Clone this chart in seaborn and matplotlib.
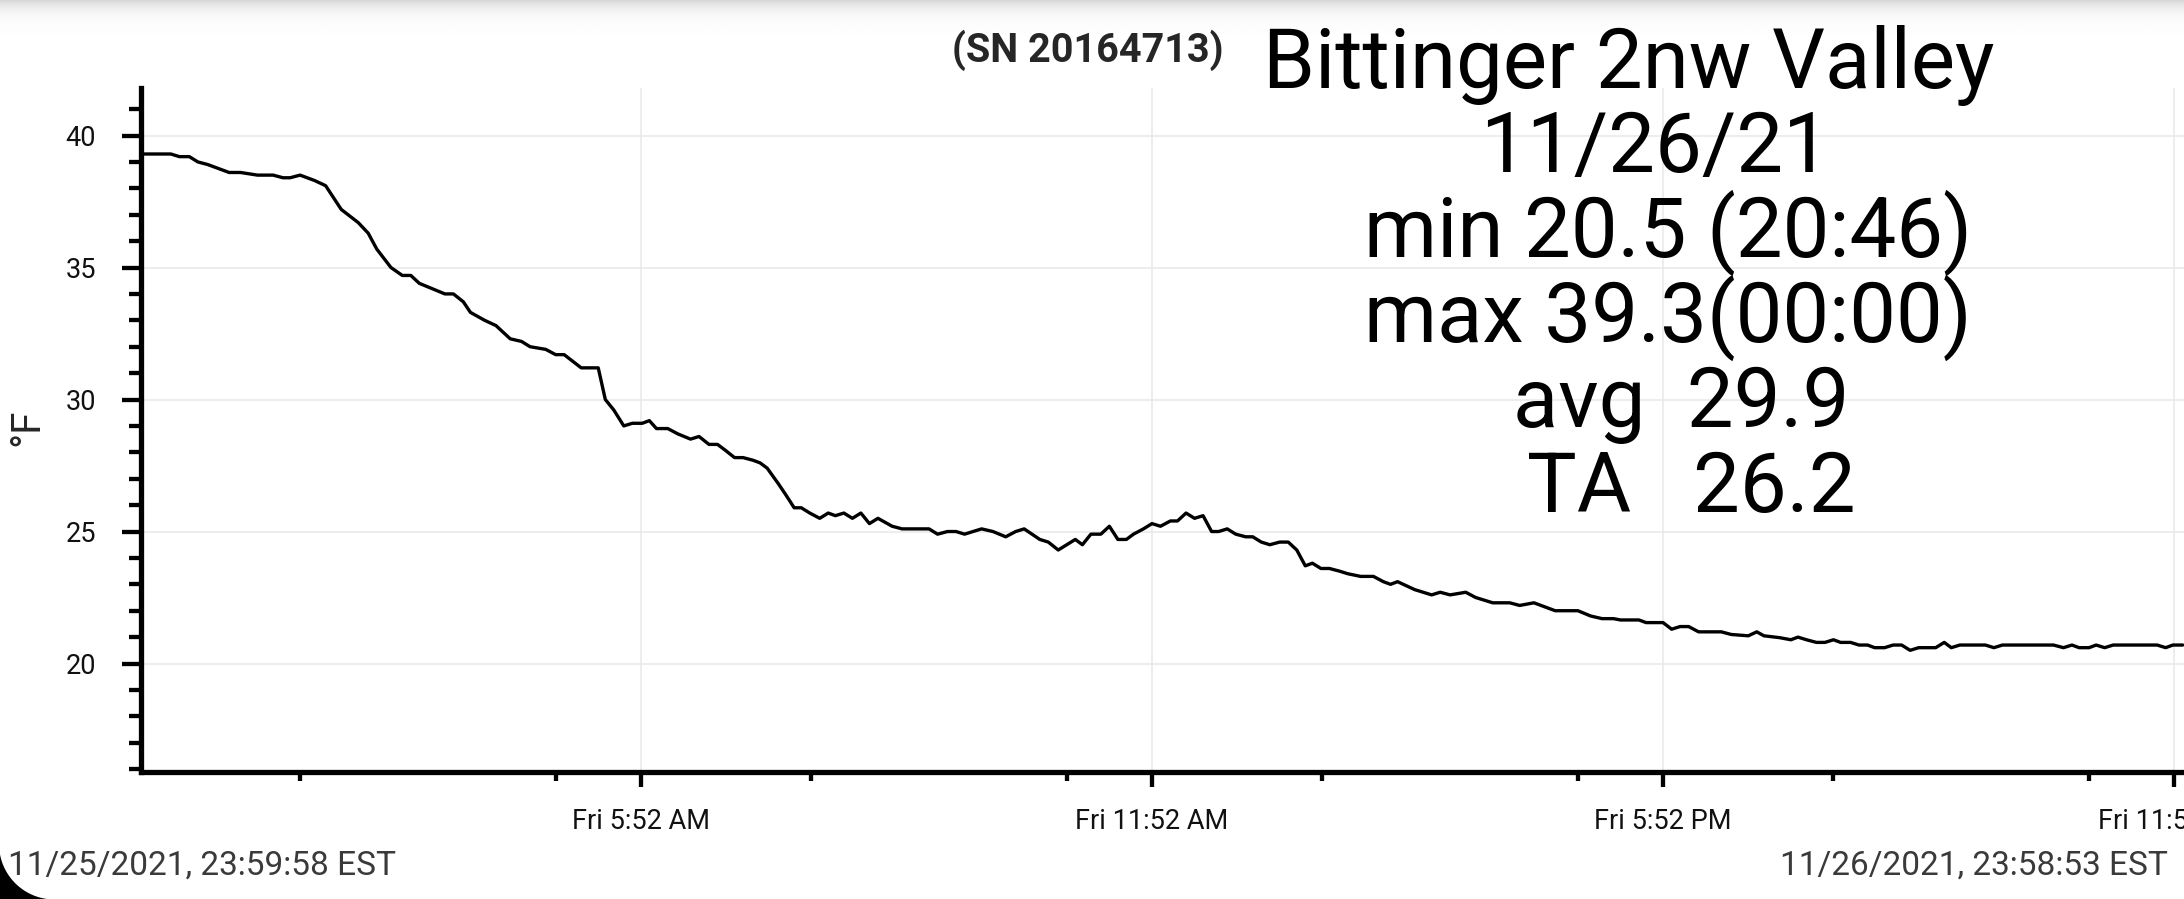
#Libraries
import numpy as np
import pandas as pd
import seaborn as sns
import matplotlib.pyplot as plt
from matplotlib.patches import Polygon

# logger readings for 11/26/21 (about every 6 minutes)
times = ["00:00", "00:09", "00:21", "00:27", "00:34", "00:40", "00:47", "00:52", "01:02", "01:10",
         "01:22", "01:33", "01:40", "01:45", "01:52", "02:02", "02:10", "02:21", "02:33", "02:40",
         "02:46", "02:56", "03:04", "03:10", "03:16", "03:34", "03:40", "03:47", "03:52", "04:02",
         "04:10", "04:20", "04:28", "04:34", "04:45", "04:52", "04:58", "05:10", "05:22", "05:27",
         "05:33", "05:40", "05:46", "05:53", "05:58", "06:03", "06:11", "06:18", "06:27", "06:33",
         "06:40", "06:46", "06:51", "06:58", "07:04", "07:11", "07:16", "07:21", "07:29", "07:34",
         "07:40", "07:45", "07:51", "07:58", "08:04", "08:09", "08:15", "08:21", "08:27", "08:33",
         "08:39", "08:49", "08:56", "09:03", "09:09", "09:15", "09:21", "09:28", "09:34", "09:40",
         "09:46", "09:52", "10:00", "10:09", "10:16", "10:22", "10:33", "10:39", "10:46", "10:52",
         "10:58", "11:03", "11:09", "11:16", "11:22", "11:28", "11:34", "11:39", "11:46", "11:52",
         "11:58", "12:05", "12:10", "12:16", "12:22", "12:28", "12:34", "12:39", "12:45", "12:51",
         "12:58", "13:03", "13:09", "13:15", "13:22", "13:28", "13:34", "13:40", "13:45", "13:51",
         "13:57", "14:04", "14:10", "14:19", "14:28", "14:35", "14:40", "14:45", "14:57", "15:09",
         "15:15", "15:22", "15:33", "15:40", "15:52", "16:04", "16:11", "16:21", "16:36", "16:45",
         "16:52", "17:01", "17:09", "17:17", "17:22", "17:35", "17:40", "17:52", "17:58", "18:04",
         "18:10", "18:17", "18:27", "18:33", "18:40", "18:52", "18:58", "19:03", "19:14", "19:22",
         "19:27", "19:33", "19:40", "19:46", "19:52", "19:57", "20:04", "20:10", "20:16", "20:21",
         "20:28", "20:34", "20:40", "20:46", "20:52", "20:58", "21:04", "21:10", "21:15", "21:21",
         "21:39", "21:45", "21:51", "22:27", "22:34", "22:40", "22:45", "22:52", "22:57", "23:03",
         "23:09", "23:40", "23:46", "23:51", "23:58"]
temps = [39.3, 39.3, 39.3, 39.2, 39.2, 39.0, 38.9, 38.8, 38.6, 38.6,
         38.5, 38.5, 38.4, 38.4, 38.5, 38.3, 38.1, 37.2, 36.7, 36.3,
         35.7, 35.0, 34.7, 34.7, 34.4, 34.0, 34.0, 33.7, 33.3, 33.0,
         32.8, 32.3, 32.2, 32.0, 31.9, 31.7, 31.7, 31.2, 31.2, 30.0,
         29.6, 29.0, 29.1, 29.1, 29.2, 28.9, 28.9, 28.7, 28.5, 28.6,
         28.3, 28.3, 28.1, 27.8, 27.8, 27.7, 27.6, 27.4, 26.8, 26.4,
         25.9, 25.9, 25.7, 25.5, 25.7, 25.6, 25.7, 25.5, 25.7, 25.3,
         25.5, 25.2, 25.1, 25.1, 25.1, 25.1, 24.9, 25.0, 25.0, 24.9,
         25.0, 25.1, 25.0, 24.8, 25.0, 25.1, 24.7, 24.6, 24.3, 24.5,
         24.7, 24.5, 24.9, 24.9, 25.2, 24.7, 24.7, 24.9, 25.1, 25.3,
         25.2, 25.4, 25.4, 25.7, 25.5, 25.6, 25.0, 25.0, 25.1, 24.9,
         24.8, 24.8, 24.6, 24.5, 24.6, 24.6, 24.3, 23.7, 23.8, 23.6,
         23.6, 23.5, 23.4, 23.3, 23.3, 23.1, 23.0, 23.1, 22.8, 22.6,
         22.7, 22.6, 22.7, 22.5, 22.3, 22.3, 22.2, 22.3, 22.0, 22.0,
         22.0, 21.8, 21.7, 21.7, 21.65, 21.65, 21.55, 21.55, 21.3, 21.4,
         21.4, 21.2, 21.2, 21.2, 21.1, 21.05, 21.2, 21.05, 20.98, 20.9,
         21.0, 20.9, 20.8, 20.8, 20.9, 20.8, 20.8, 20.7, 20.7, 20.6,
         20.6, 20.7, 20.7, 20.5, 20.6, 20.6, 20.6, 20.8, 20.6, 20.7,
         20.7, 20.6, 20.7, 20.7, 20.6, 20.7, 20.6, 20.6, 20.7, 20.6,
         20.7, 20.7, 20.6, 20.7, 20.7]

day = "2021-11-26 "
x_start = "2021-11-25 23:59:58"
x_end = "2021-11-26 23:58:53"

major_ticks = ["05:52", "11:52", "17:52", "23:52"]
major_labels = ["Fri 5:52 AM", "Fri 11:52 AM", "Fri 5:52 PM", "Fri 11:52 PM"]
minor_ticks = ["01:52", "04:52", "07:52", "10:52", "13:52", "16:52", "19:52", "22:52"]
y_major = [20, 25, 30, 35, 40]
y_minor = [v for v in range(16, 42) if v % 5 != 0]

serial = "(SN 20164713)"
title_lines = ["Bittinger 2nw Valley", "11/26/21", "min 20.5 (20:46)",
               "max 39.3(00:00)", "avg  29.9", "TA   26.2"]
start_label = "11/25/2021, 23:59:58 EST"
end_label = "11/26/2021, 23:58:53 EST"

df = pd.DataFrame({"time": pd.to_datetime([day + t for t in times]), "temp": temps})

W, H = 2184, 899

def fx(x):
    return x / W

def fy(y):
    return 1 - y / H

sns.set_theme(style="white")
plt.rcParams['font.family'] = ['Roboto', 'DejaVu Sans']

fig = plt.figure(figsize=(W / 100, H / 100), dpi=100)
ax = fig.add_axes([fx(141), fy(771.5), 1 - fx(141), (771.5 - 88) / H])

sns.lineplot(data=df, x="time", y="temp", ax=ax, color="black", linewidth=2.4)

ax.set_xlim(pd.Timestamp(x_start).to_pydatetime(), pd.Timestamp(x_end).to_pydatetime())
ax.set_ylim(15.91, 41.80)

ax.set_xticks([pd.Timestamp(day + t).to_pydatetime() for t in major_ticks])
ax.set_xticklabels(major_labels)
ax.set_xticks([pd.Timestamp(day + t).to_pydatetime() for t in minor_ticks], minor=True)
ax.set_yticks(y_major)
ax.set_yticks(y_minor, minor=True)

ax.grid(True, which="major", color="#e8e8e8", linewidth=1.1)
ax.set_axisbelow(True)
sns.despine(ax=ax)
for side in ["left", "bottom"]:
    ax.spines[side].set_linewidth(3.8)
    ax.spines[side].set_color("black")

ax.tick_params(axis="y", which="major", direction="out", length=13.7, width=3.1,
               color="black", pad=18.5, labelsize=19.5, labelcolor="#111111", left=True)
ax.tick_params(axis="y", which="minor", direction="out", length=8.3, width=3.1,
               color="black", left=True)
ax.tick_params(axis="x", which="major", direction="out", length=11, width=3.1,
               color="black", pad=15, labelsize=19.5, labelcolor="#111111", bottom=True)
ax.tick_params(axis="x", which="minor", direction="out", length=6.7, width=3.1,
               color="black", bottom=True)

ax.set_xlabel("")
ax.set_ylabel("°F", fontsize=29, va="center")
ax.yaxis.set_label_coords((27 - 141) / (W - 141), (771.5 - 427) / (771.5 - 88))

# station title block
fig.text(fx(1088), fy(61.7), serial, ha="center", va="baseline",
         fontsize=28.5, fontweight="bold")
centers = [1629, 1655, 1668, 1668, 1681, 1691]
baselines = [88.3, 171.7, 256.7, 341.7, 426.7, 511.7]
for line, cx, by in zip(title_lines, centers, baselines):
    fig.text(fx(cx), fy(by), line, ha="center", va="baseline", fontsize=60, color="black")

# range stamps under the axis
fig.text(fx(8), fy(875), start_label, ha="left", va="baseline", fontsize=24, color="#3a3a3a")
fig.text(fx(2168), fy(875), end_label, ha="right", va="baseline", fontsize=24, color="#3a3a3a")

# toolbar shadow at the top of the screenshot
shade = fig.add_axes([0, fy(36), 1, 36 / H], zorder=-1)
rows = np.arange(36)
grad = 1 - 0.16 * np.exp(-rows / 9.0)
shade.imshow(np.repeat(grad[:, None], 8, axis=1), cmap="gray", vmin=0, vmax=1,
             aspect="auto", interpolation="bilinear")
shade.axis("off")

# rounded screen corner, bottom left
ang = np.radians(np.linspace(90, 169.2, 40))
cx, cy, r = 54.5, 844, 55.5
pts = [(fx(cx + r * np.cos(a)), fy(cy + r * np.sin(a))) for a in ang]
pts += [(fx(-5), fy(-5 + 910)), (fx(60), fy(905))]
fig.patches.append(Polygon(pts, closed=True, facecolor="black", edgecolor="none",
                           transform=fig.transFigure, figure=fig))

fig.savefig("out.png", dpi=100)
